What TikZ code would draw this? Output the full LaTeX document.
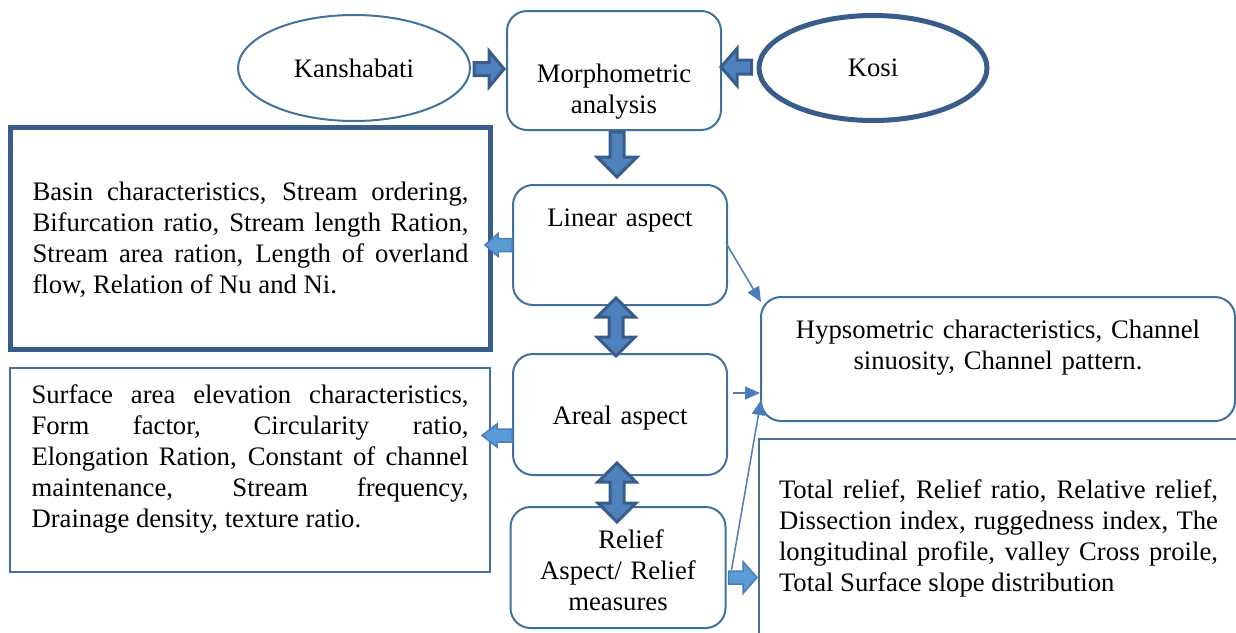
\documentclass[tikz,border=0pt]{standalone}
\usepackage{fontspec}
\setmainfont{Liberation Serif}
\usetikzlibrary{calc}
\usetikzlibrary{shapes.geometric}
\usetikzlibrary{arrows.meta}
\definecolor{boxblue}{HTML}{41719C}
\definecolor{darkblue}{HTML}{385D8A}
\definecolor{midblue}{HTML}{4F81BD}
\definecolor{lightblue}{HTML}{5B9BD5}
\definecolor{lineblue}{HTML}{4A7EBB}
\newcommand{\fatarrow}[6][]{%
  \path (#2) coordinate (fa-s) (#3) coordinate (fa-e);
  \path ($(fa-e)!#6!(fa-s)$) coordinate (fa-b);
  \draw[#1] ($(fa-s)!#4!90:(fa-e)$) -- ($(fa-b)!#4!90:(fa-e)$) -- ($(fa-b)!#5!90:(fa-e)$) -- (fa-e)
    -- ($(fa-b)!#5!-90:(fa-e)$) -- ($(fa-b)!#4!-90:(fa-e)$) -- ($(fa-s)!#4!-90:(fa-e)$) -- cycle;}
\newcommand{\fatdarrow}[6][]{%
  \path (#2) coordinate (fa-s) (#3) coordinate (fa-e);
  \path ($(fa-e)!#6!(fa-s)$) coordinate (fa-b) ($(fa-s)!#6!(fa-e)$) coordinate (fa-c);
  \draw[#1] (fa-s) -- ($(fa-c)!#5!90:(fa-e)$) -- ($(fa-c)!#4!90:(fa-e)$) -- ($(fa-b)!#4!90:(fa-e)$) -- ($(fa-b)!#5!90:(fa-e)$) -- (fa-e)
    -- ($(fa-b)!#5!-90:(fa-e)$) -- ($(fa-b)!#4!-90:(fa-e)$) -- ($(fa-c)!#4!-90:(fa-e)$) -- ($(fa-c)!#5!-90:(fa-e)$) -- cycle;}

\begin{document}
\begin{tikzpicture}[x=1pt, y=-1pt, font=\fontsize{26.7}{31}\selectfont,
  oval/.style={ellipse, draw=boxblue, line width=2pt, minimum width=232pt, minimum height=106pt},
  roundbox/.style={draw=boxblue, line width=2pt, rounded corners=20pt, inner sep=0pt, align=center},
  textbox/.style={draw=boxblue, line width=2pt, inner ysep=0pt, align=justify},
  bigarrow/.style={draw=darkblue, fill=midblue, line width=3pt},
  sidearrow/.style={draw=lineblue, fill=lightblue, line width=1.5pt},
  thinarrow/.style={draw=lineblue, line width=1.5pt, -{Triangle[length=15pt, width=13pt]}}]

\useasboundingbox (0,0) rectangle (1236,632);

\node[oval] (kan) at (354,68) {Kanshabati};
\node[oval, draw=darkblue, line width=5pt, minimum width=228pt, minimum height=105pt] (kosi) at (873,68) {Kosi};

\node[roundbox, text width=214pt, text height=71pt, text depth=48pt] (morph) at (614,70.5) {Morphometric\\analysis};
\node[roundbox, text width=214pt, text height=41pt, text depth=79pt] (linear) at (620,245) {Linear aspect};
\node[roundbox, text width=214pt, text height=70pt, text depth=51pt] (areal) at (620,414.5) {Areal aspect};
\node[roundbox, text width=215pt, text height=41pt, text depth=80pt] (relief) at (618,567.5) {\hspace*{26pt}Relief\\Aspect/ Relief\\measures};
\node[roundbox, text width=474pt, text height=41pt, text depth=83pt] (hyps) at (998,359) {Hypsometric characteristics, Channel\\sinuosity, Channel pattern.};

\node[textbox, draw=darkblue, line width=5pt, inner xsep=22pt, text width=436pt, text height=72.5pt, text depth=149.5pt] (box1) at (250.5,238.5)
  {Basin characteristics, Stream ordering,\linebreak Bifurcation ratio, Stream length Ration,\linebreak Stream area ration, Length of overland\linebreak flow, Relation of Nu and Ni.};
\node[textbox, inner xsep=21.5pt, text width=437pt, text height=35pt, text depth=169pt] (box2) at (250,470)
  {Surface area elevation characteristics,\linebreak Form factor, Circularity ratio,\linebreak Elongation Ration, Constant of channel\linebreak maintenance, Stream frequency,\linebreak Drainage density, texture ratio.};
\node[textbox, inner xsep=20pt, text width=439pt, text height=59pt, text depth=200pt] (rmeas) at (998.5,568.5)
  {Total relief, Relief ratio, Relative relief,\linebreak Dissection index, ruggedness index, The\linebreak longitudinal profile, valley Cross proile,\linebreak Total Surface slope distribution};

\fatarrow[bigarrow]{$(kan.east)+(3,1)$}{$(kan.east -| morph.west)+(-2,1)$}{6.5pt}{18pt}{15pt}
\fatarrow[bigarrow]{$(kosi.west)+(-5,-1)$}{$(kosi.west -| morph.east)+(-1,-1)$}{7pt}{18.5pt}{16pt}
\fatarrow[bigarrow]{$(morph.south)+(3,1)$}{$(morph.south |- linear.north)+(3,-7)$}{7pt}{20pt}{20pt}

\fatarrow[sidearrow]{linear.west}{$(linear.west -| box1.east)+(-8,0)$}{6.5pt}{11.5pt}{13pt}
\fatarrow[sidearrow]{$(areal.west)+(0,21)$}{$(areal.west -| box2.east)+(-9,21)$}{6.5pt}{11.5pt}{15pt}
\fatarrow[sidearrow]{$(relief.east)+(2,10)$}{$(relief.east -| rmeas.west)+(-1,10)$}{6.5pt}{16pt}{14pt}

\fatdarrow[bigarrow]{$(linear.south)+(-4,-8)$}{$(areal.north)+(-4,3)$}{7pt}{19pt}{19pt}
\fatdarrow[bigarrow]{$(areal.south)+(-3,-13)$}{$(relief.north)+(-1,16)$}{7pt}{19pt}{19pt}

\draw[thinarrow] ([shift={(-2,-2)}]linear.east) -- ($(hyps.north west)+(1,6)$);
\draw[thinarrow] ([shift={(5,-21.5)}]areal.east) coordinate (arr) -- (arr -| hyps.west);
\draw[thinarrow] ([shift={(5,2.5)}]relief.east) -- ($(hyps.west)+(1,41)$);

\end{tikzpicture}
\end{document}
